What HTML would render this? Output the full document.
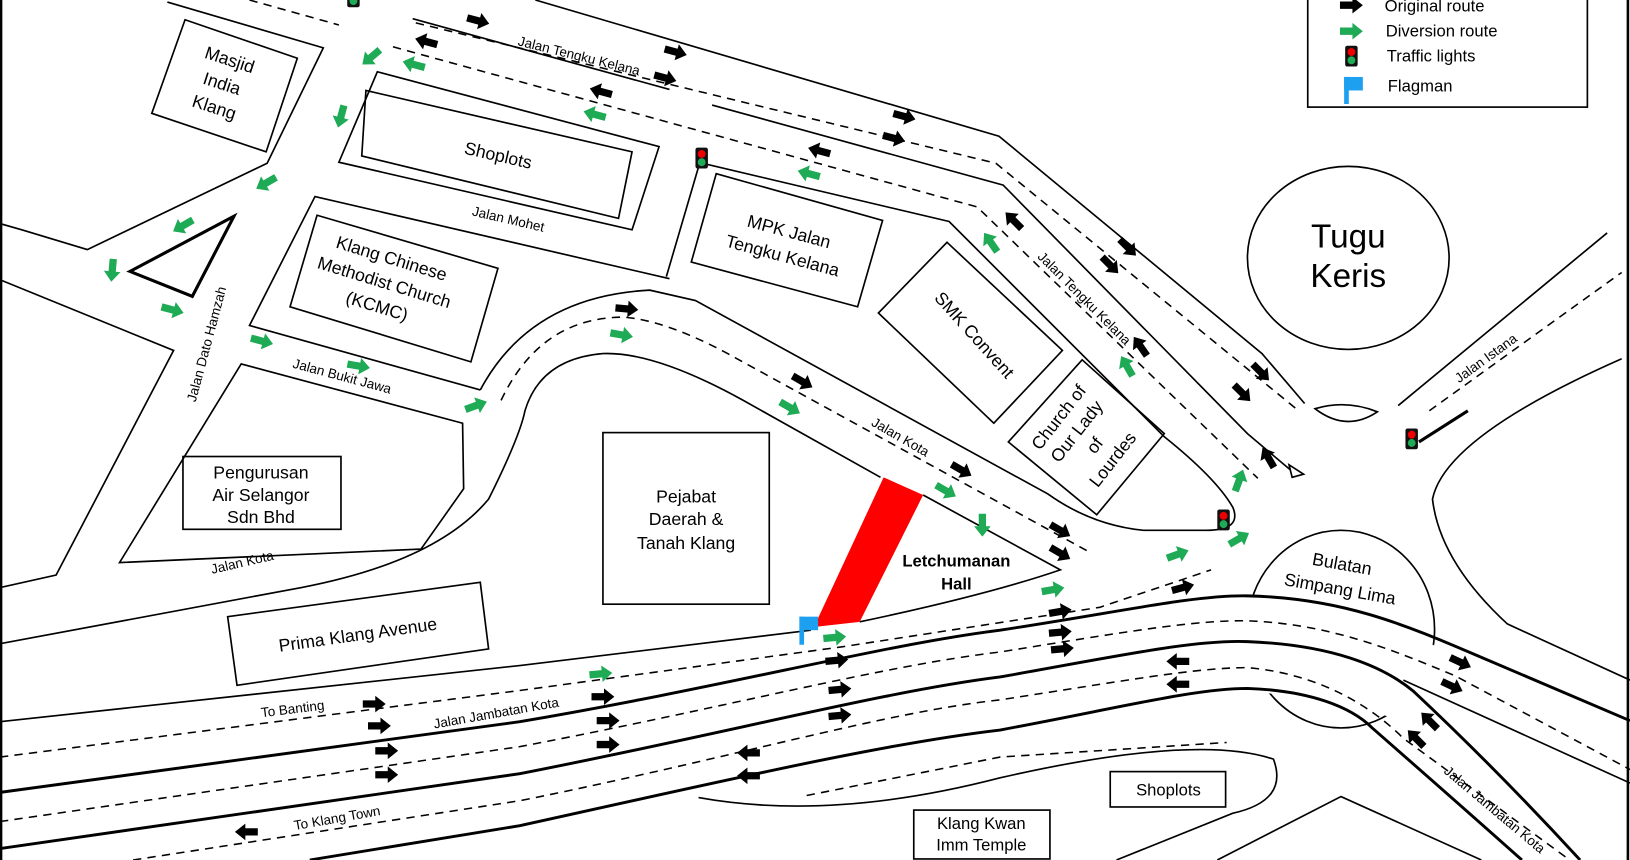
<!DOCTYPE html>
<html><head><meta charset="utf-8"><style>
html,body{margin:0;padding:0;background:#fff}
svg{display:block}
text{font-family:"Liberation Sans",Arial,sans-serif;fill:#000}
</style></head><body>
<svg width="1630" height="860" viewBox="0 0 1568 827" preserveAspectRatio="none" xmlns="http://www.w3.org/2000/svg">
<defs>
<polygon id="ab" points="-11,-3.5 1,-3.5 1,-8 11,0 1,8 1,3.5 -11,3.5" fill="#000"/>
<polygon id="ag" points="-11,-3.5 1,-3.5 1,-8 11,0 1,8 1,3.5 -11,3.5" fill="#1faa55"/>
<g id="tl"><rect x="-6" y="-10" width="12" height="20" rx="2" fill="#111"/><circle cx="0" cy="-4" r="3.8" fill="#e00"/><circle cx="0" cy="4" r="3.8" fill="#1faa55"/></g>
</defs>
<rect width="1568" height="827" fill="#fff"/>
<g fill="none" stroke="#000" stroke-width="1.6">
<line x1="1" y1="0" x2="1" y2="827" stroke-width="2.5"/>
<line x1="1566" y1="0" x2="1566" y2="827" stroke-width="2.5"/>
<polyline points="161,2 311,46 257,157 84,240 21,221 0,215"/>
<polyline points="0,269 167,337 54,553 0,565"/>
<polygon points="232,350 445,407 446,470 405,528 115,541"/>
<polygon points="178,19 286,56 256,146 146,109"/>
<polygon points="225,208 125,261 185,285" stroke-width="3"/>
<polygon points="363,69 634,141 608,221 326,156"/>
<polygon points="352,87 608,146 595,210 348,150"/>
<polyline points="644,268 303,189 240,313 462,375"/>
<polygon points="305,207 479,258 453,348 279,295"/>
<polyline points="673,157 641,266"/>
<polygon points="689,167 849,212 825,295 665,252"/>
<polyline points="515,0 961,131 1214,340 1255,388"/>
<polyline points="685,101 965,178 1200,417 1245,455"/>
<polygon points="1240,447 1254,456 1243,459" fill="#fff"/>
<polyline points="397,18 644,86"/>
<path d="M462,375 Q510,285 625,279 L669,289 L1008,475 Q1050,505 1100,510 L1160,510 Q1195,510 1186,488 Q1170,460 1120,420 L913,213 L680,158"/>
<polygon points="911,233 1022,337 956,407 845,301"/>
<polygon points="1041,346 1120,417 1055,495 970,425"/>
<path d="M0,619 L290,565 Q420,540 470,480 Q500,420 505,395 Q520,345 580,340 Q630,338 715,385 L847,459"/>
<path d="M888,476 L1020,548 Q950,572 827,598"/>
<rect x="580" y="416" width="160" height="165"/>
<polygon points="219,593 462,560 470,624 228,659"/>
<ellipse cx="1297" cy="248" rx="97" ry="88"/>
<path d="M1265,393 Q1295,384 1325,396 Q1295,416 1265,393 Z"/>
<line x1="1345" y1="390" x2="1546" y2="224"/>
<path d="M1560,345 Q1390,420 1378,480 Q1385,540 1450,600 L1568,654"/>
<ellipse cx="1290" cy="605" rx="90" ry="95"/>
</g>
<path d="M1150,582 Q1194,568 1250,578 Q1320,592 1400,630 L1400,720 Q1330,680 1300,683 Q1240,660 1150,668 Z" fill="#fff"/>
<g fill="none" stroke="#000">
<polyline points="0,694 500,640 780,606" stroke-width="1.6"/>
<path d="M0,762 L500,694 C700,660 850,620 962,606 C1080,588 1150,572 1200,573 C1290,575 1350,600 1420,630 L1568,693" stroke-width="2.8"/>
<path d="M0,816 L500,744 C700,705 850,665 962,651 C1080,630 1150,615 1200,617 C1280,620 1330,640 1360,665 Q1440,740 1520,827" stroke-width="2.8"/>
<path d="M1350,654 L1568,753" stroke-width="1.6"/>
<path d="M298,827 L500,794 C700,750 850,715 962,702 C1080,680 1150,662 1200,662 C1260,664 1300,680 1320,700 Q1400,770 1464,827" stroke-width="2.8"/>
<path d="M672,767 Q800,790 962,748 Q1150,705 1225,730 Q1240,770 1186,782 L1074,827" stroke-width="1.6"/>
<polyline points="1171,827 1290,766 1425,827" stroke-width="1.6"/>
</g>
<g fill="none" stroke="#000" stroke-width="1.5" stroke-dasharray="8,6">
<path d="M0,728 L500,664 L810,622 L1058,584 L1165,548"/>
<path d="M0,790 L500,718 C700,680 850,640 962,627 C1080,608 1150,596 1200,597 C1280,600 1340,625 1400,650 L1568,740"/>
<path d="M128,827 L500,770 C700,730 850,685 962,673 C1080,655 1150,642 1200,642 C1270,648 1320,680 1350,710 L1510,827"/>
<path d="M776,765 L962,728 L1180,714"/>
<polyline points="378,45 940,199 1210,460"/>
<polyline points="400,22 958,157 1248,394"/>
<polyline points="240,0 326,24"/>
<path d="M482,385 Q520,305 600,305 Q640,308 700,340 L1050,532"/>
<line x1="1375" y1="395" x2="1560" y2="262"/>
</g>
<line x1="1365" y1="425" x2="1412" y2="395" stroke="#000" stroke-width="3"/>
<polygon points="850,459 888,476 827,598 783,603" fill="#f00"/>
<rect x="769" y="593" width="18" height="13" fill="#1ea0f0"/>
<rect x="769" y="593" width="4.5" height="27" fill="#1ea0f0"/>
<use href="#tl" x="340" y="-3"/><use href="#tl" x="675" y="152"/><use href="#tl" x="1177" y="500"/><use href="#tl" x="1358" y="422"/>
<g>
<use href="#ab" transform="translate(460,20) rotate(15)"/>
<use href="#ab" transform="translate(650,50) rotate(15)"/>
<use href="#ab" transform="translate(410,40) rotate(195)"/>
<use href="#ab" transform="translate(578,88) rotate(195)"/>
<use href="#ab" transform="translate(640,75) rotate(15)"/>
<use href="#ab" transform="translate(870,112) rotate(15)"/>
<use href="#ab" transform="translate(860,133) rotate(15)"/>
<use href="#ab" transform="translate(788,145) rotate(195)"/>
<use href="#ab" transform="translate(975,212) rotate(225)"/>
<use href="#ab" transform="translate(1068,255) rotate(45)"/>
<use href="#ab" transform="translate(1085,238) rotate(45)"/>
<use href="#ab" transform="translate(1213,358) rotate(45)"/>
<use href="#ab" transform="translate(1195,378) rotate(45)"/>
<use href="#ab" transform="translate(1097,333) rotate(235)"/>
<use href="#ab" transform="translate(1220,440) rotate(240)"/>
<use href="#ab" transform="translate(603,297) rotate(5)"/>
<use href="#ab" transform="translate(772,367) rotate(30)"/>
<use href="#ab" transform="translate(925,452) rotate(30)"/>
<use href="#ab" transform="translate(1020,510) rotate(30)"/>
<use href="#ab" transform="translate(1020,532) rotate(30)"/>
<use href="#ab" transform="translate(1138,565) rotate(-15)"/>
<use href="#ab" transform="translate(1020,588) rotate(-10)"/>
<use href="#ab" transform="translate(1020,608) rotate(-5)"/>
<use href="#ab" transform="translate(1022,624) rotate(-5)"/>
<use href="#ab" transform="translate(805,635) rotate(-5)"/>
<use href="#ab" transform="translate(808,663) rotate(-5)"/>
<use href="#ab" transform="translate(808,688) rotate(-5)"/>
<use href="#ab" transform="translate(580,670)"/>
<use href="#ab" transform="translate(585,693)"/>
<use href="#ab" transform="translate(585,716)"/>
<use href="#ab" transform="translate(360,677)"/>
<use href="#ab" transform="translate(365,698)"/>
<use href="#ab" transform="translate(372,722)"/>
<use href="#ab" transform="translate(372,745)"/>
<use href="#ab" transform="translate(720,724) rotate(180)"/>
<use href="#ab" transform="translate(720,746) rotate(180)"/>
<use href="#ab" transform="translate(1133,636) rotate(180)"/>
<use href="#ab" transform="translate(1133,658) rotate(180)"/>
<use href="#ab" transform="translate(1405,637) rotate(25)"/>
<use href="#ab" transform="translate(1397,660) rotate(25)"/>
<use href="#ab" transform="translate(1375,693) rotate(225)"/>
<use href="#ab" transform="translate(1362,710) rotate(225)"/>
<use href="#ab" transform="translate(237,800) rotate(180)"/>
</g>
<g>
<use href="#ag" transform="translate(398,62) rotate(195)"/>
<use href="#ag" transform="translate(357,55) rotate(140)"/>
<use href="#ag" transform="translate(328,112) rotate(105)"/>
<use href="#ag" transform="translate(256,176) rotate(150)"/>
<use href="#ag" transform="translate(176,217) rotate(150)"/>
<use href="#ag" transform="translate(108,260) rotate(95)"/>
<use href="#ag" transform="translate(166,298) rotate(15)"/>
<use href="#ag" transform="translate(252,328) rotate(15)"/>
<use href="#ag" transform="translate(345,352) rotate(10)"/>
<use href="#ag" transform="translate(458,390) rotate(-20)"/>
<use href="#ag" transform="translate(598,322) rotate(10)"/>
<use href="#ag" transform="translate(760,392) rotate(30)"/>
<use href="#ag" transform="translate(910,472) rotate(30)"/>
<use href="#ag" transform="translate(945,505) rotate(90)"/>
<use href="#ag" transform="translate(572,110) rotate(195)"/>
<use href="#ag" transform="translate(778,167) rotate(195)"/>
<use href="#ag" transform="translate(953,233) rotate(235)"/>
<use href="#ag" transform="translate(1084,352) rotate(240)"/>
<use href="#ag" transform="translate(1192,462) rotate(-70)"/>
<use href="#ag" transform="translate(1133,533) rotate(-20)"/>
<use href="#ag" transform="translate(1192,518) rotate(-30)"/>
<use href="#ag" transform="translate(1013,567) rotate(-10)"/>
<use href="#ag" transform="translate(803,613) rotate(-5)"/>
<use href="#ag" transform="translate(578,648) rotate(-5)"/>
</g>
<rect x="1258" y="-5" width="269" height="108" fill="#fff" stroke="#000" stroke-width="1.6"/>
<use href="#ab" x="1300" y="5"/>
<use href="#ag" x="1300" y="30"/>
<use href="#tl" x="1300" y="54"/>
<rect x="1293" y="74" width="18" height="13" fill="#1ea0f0"/><rect x="1293" y="74" width="4.5" height="26" fill="#1ea0f0"/>
<g font-size="16">
<text x="1332" y="11">Original route</text>
<text x="1333" y="35">Diversion route</text>
<text x="1334" y="59">Traffic lights</text>
<text x="1335" y="88">Flagman</text>
</g>
<g font-size="17" text-anchor="middle">
<text transform="translate(213,82) rotate(18)"><tspan x="0" y="-20">Masjid</tspan><tspan x="0" y="4">India</tspan><tspan x="0" y="28">Klang</tspan></text>
<text transform="translate(478,155) rotate(13)">Shoplots</text>
<text transform="translate(368,277) rotate(17)"><tspan x="0" y="-24">Klang Chinese</tspan><tspan x="0" y="0">Methodist Church</tspan><tspan x="0" y="24">(KCMC)</tspan></text>
<text transform="translate(756,234) rotate(15)"><tspan x="0" y="-6">MPK Jalan</tspan><tspan x="0" y="18">Tengku Kelana</tspan></text>
<text transform="translate(933,326) rotate(48)">SMK Convent</text>
<text transform="translate(1045,422) rotate(-52)"><tspan x="0" y="-28">Church of</tspan><tspan x="0" y="-6">Our Lady</tspan><tspan x="0" y="16">of</tspan><tspan x="0" y="38">Lourdes</tspan></text>
<text x="251" y="460">Pengurusan</text><text x="251" y="482">Air Selangor</text><text x="251" y="503">Sdn Bhd</text>
<text x="660" y="483">Pejabat</text><text x="660" y="505">Daerah &amp;</text><text x="660" y="528">Tanah Klang</text>
<text transform="translate(345,616) rotate(-8)">Prima Klang Avenue</text>
<text x="1124" y="765" font-size="16">Shoplots</text>
<text x="944" y="797" font-size="16">Klang Kwan</text><text x="944" y="818" font-size="16">Imm Temple</text>
<text x="920" y="545" font-weight="bold" font-size="16">Letchumanan</text><text x="920" y="567" font-weight="bold" font-size="16">Hall</text>
<text transform="translate(1290,548) rotate(10)" font-size="17">Bulatan</text>
<text transform="translate(1288,572) rotate(10)" font-size="17">Simpang Lima</text>
<text x="1297" y="238" font-size="32">Tugu</text><text x="1297" y="276" font-size="32">Keris</text>
</g>
<rect x="176" y="439" width="152" height="70" fill="none" stroke="#000" stroke-width="1.6"/>
<rect x="1068" y="742" width="111" height="34" fill="none" stroke="#000" stroke-width="1.6"/>
<rect x="879" y="779" width="131" height="47" fill="none" stroke="#000" stroke-width="1.6"/>
<g font-size="13" text-anchor="middle">
<text transform="translate(556,58) rotate(14)">Jalan Tengku Kelana</text>
<text transform="translate(488,215) rotate(13)">Jalan Mohet</text>
<text transform="translate(203,332) rotate(-75)">Jalan Dato Hamzah</text>
<text transform="translate(328,366) rotate(15)">Jalan Bukit Jawa</text>
<text transform="translate(234,545) rotate(-13)">Jalan Kota</text>
<text transform="translate(864,424) rotate(30)">Jalan Kota</text>
<text transform="translate(1040,290) rotate(45)">Jalan Tengku Kelana</text>
<text transform="translate(1432,348) rotate(-36)">Jalan Istana</text>
<text transform="translate(282,686) rotate(-7)">To Banting</text>
<text transform="translate(478,690) rotate(-10)">Jalan Jambatan Kota</text>
<text transform="translate(325,791) rotate(-10)">To Klang Town</text>
<text transform="translate(1435,782) rotate(40)">Jalan Jambatan Kota</text>
</g>
</svg>
</body></html>
